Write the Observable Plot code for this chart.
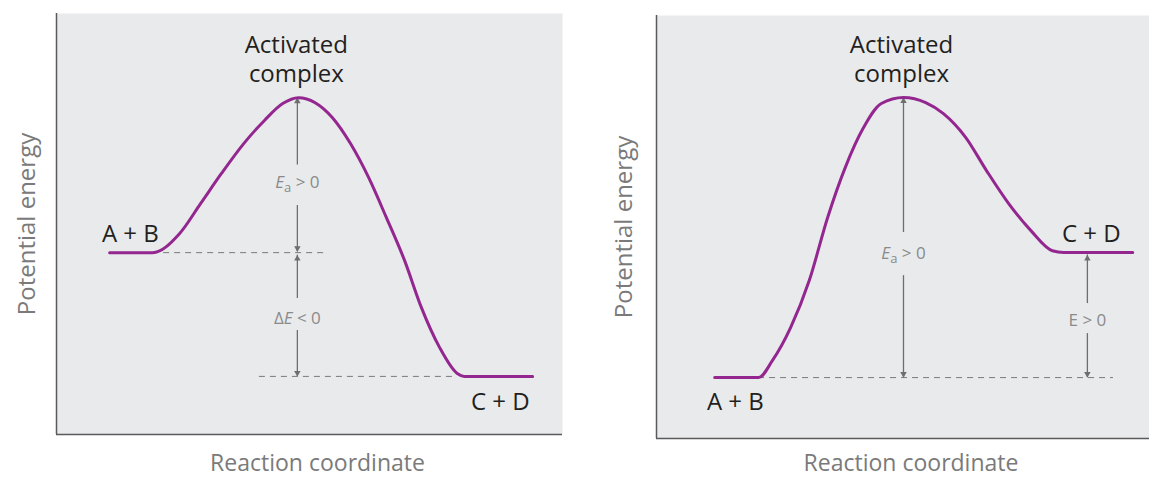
<!DOCTYPE html>
<html>
<head>
<meta charset="utf-8">
<script src="https://cdn.jsdelivr.net/npm/d3@7"></script>
<script src="https://cdn.jsdelivr.net/npm/@observablehq/plot@0.6"></script>
<style>
  body { margin: 0; background: #ffffff; }
  #wrap { display: flex; width: 1149px; height: 479px; overflow: hidden; }
  #wrap svg { display: block; }
</style>
</head>
<body>
<div id="wrap"></div>
<script>
// ---------- Left panel: exothermic reaction (ΔE < 0) ----------
const leftCurveX = [10.5, 19.0, 24.3, 28.5, 32.6, 37.0, 41.1, 44.7, 47.8, 54.5, 58.1, 61.7, 65.2, 68.8, 72.1, 75.7, 79.2, 80.6, 94.1];
const leftCurveE = [43.2, 43.2, 47.7, 54.9, 62.0, 69.1, 74.6, 78.6, 80.0, 75.3, 69.1, 61.0, 51.5, 41.3, 30.2, 20.7, 14.5, 13.8, 13.8];
const leftDashE = [43.2, 13.8];
const leftDashFrom = [19.0, 40.1];
const leftDashTo = [53.2, 79.2];
const leftArrowX = [47.6, 47.6, 47.6, 47.6];
const leftArrowFrom = [64.0, 54.4, 32.3, 24.7];
const leftArrowTo = [80.0, 43.4, 42.6, 13.8];
const leftLabels = ["Activated\ncomplex", "A + B", "C + D"];
const leftLabelX = [47.4, 14.6, 87.7];
const leftLabelE = [89.4, 48.0, 8.1];
const leftNotes = ["Ea > 0", "ΔE < 0"];
const leftNoteX = [47.6, 47.6];
const leftNoteE = [59.9, 27.6];

// ---------- Right panel: endothermic reaction (E > 0) ----------
const rightCurveX = [11.8, 20.7, 23.5, 27.2, 31.0, 34.7, 38.3, 42.0, 45.6, 50.1, 54.6, 58.2, 62.7, 66.9, 71.4, 75.9, 80.3, 82.6, 96.6];
const rightCurveE = [14.4, 14.4, 18.4, 26.2, 37.4, 52.2, 64.1, 73.5, 79.2, 80.6, 79.4, 76.8, 71.2, 63.4, 55.6, 49.2, 44.4, 44.0, 44.0];
const rightDashE = [14.4];
const rightDashFrom = [20.7];
const rightDashTo = [92.7];
const rightArrowX = [50.1, 50.1, 87.4, 87.4];
const rightArrowFrom = [48.7, 38.5, 31.9, 24.8];
const rightArrowTo = [80.6, 14.4, 43.4, 14.4];
const rightLabels = ["Activated\ncomplex", "C + D", "A + B"];
const rightLabelX = [49.7, 88.2, 16.0];
const rightLabelE = [90.0, 48.7, 9.0];
const rightNotes = ["Ea > 0", "E > 0"];
const rightNoteX = [50.1, 87.4];
const rightNoteE = [43.7, 27.9];

const axisTitleX = "Reaction coordinate";
const axisTitleY = "Potential energy";

const FONT = "'Open Sans', 'Noto Sans', sans-serif";
const PURPLE = "#93278f";
const PANEL = "#e9eaec";
const ARROW = "#6e6e6e";

function makePanel(cfg) {
  const curve = cfg.curveX.map((x, i) => ({x, e: cfg.curveE[i]}));
  const dashes = cfg.dashE.map((e, i) => ({e, x1: cfg.dashFrom[i], x2: cfg.dashTo[i]}));
  const shafts = cfg.arrowX.map((x, i) => ({x, from: cfg.arrowFrom[i], to: cfg.arrowTo[i]}));
  const upHeads = shafts.filter(d => d.to > d.from);
  const downHeads = shafts.filter(d => d.to < d.from);
  const labels = cfg.labels.map((t, i) => ({t, x: cfg.labelX[i], e: cfg.labelE[i]}));
  const notes = cfg.notes.map((t, i) => ({t, x: cfg.noteX[i], e: cfg.noteE[i]}));

  const svg = Plot.plot({
    width: cfg.width,
    height: 479,
    marginLeft: cfg.ml,
    marginRight: cfg.mr,
    marginTop: cfg.mt,
    marginBottom: cfg.mb,
    x: {domain: [0, 100], axis: null},
    y: {domain: [0, 100], axis: null},
    style: {fontFamily: FONT, background: "transparent", overflow: "visible"},
    marks: [
      Plot.frame({fill: PANEL, stroke: "none"}),
      Plot.ruleX([0], {stroke: "#5a5a5a", strokeWidth: 1.5}),
      Plot.ruleY([0], {stroke: "#5a5a5a", strokeWidth: 1.5}),
      Plot.ruleY(dashes, {y: "e", x1: "x1", x2: "x2", stroke: "#7a7a7a", strokeWidth: 1, strokeDasharray: "6,5"}),
      Plot.ruleX(shafts, {x: "x", y1: "from", y2: "to", stroke: ARROW, strokeWidth: 1.3}),
      Plot.dot(upHeads, {x: "x", y: "to", symbol: "triangle", r: 2.4, fill: ARROW, stroke: "none", dy: 3.6}),
      Plot.dot(downHeads, {x: "x", y: "to", symbol: "triangle", r: 2.4, rotate: 180, fill: ARROW, stroke: "none", dy: -3.6}),
      Plot.line(curve, {x: "x", y: "e", curve: "monotone-x", stroke: PURPLE, strokeWidth: 3}),
      Plot.text(labels, {x: "x", y: "e", text: "t", fontSize: 24, lineHeight: 1.22, fill: "#231f20"}),
      Plot.text(notes, {x: "x", y: "e", text: "t", fontSize: 17, fill: "#8a8a8a"}),
      Plot.text([axisTitleX], {frameAnchor: "bottom", dy: cfg.xlabDy, dx: 8, fontSize: 23, fill: "#7a7a7a", textAnchor: "middle", lineAnchor: "middle"}),
      Plot.text([axisTitleY], {frameAnchor: "left", rotate: -90, dx: cfg.ylabDx, fontSize: 24, fill: "#7a7a7a", textAnchor: "middle", lineAnchor: "middle"})
    ]
  });

  // Typeset the symbols: italic E, subscript a
  d3.select(svg).selectAll("text").each(function () {
    const t = d3.select(this);
    const s = this.textContent;
    if (s === "Ea > 0") {
      t.text(null);
      t.append("tspan").attr("font-style", "italic").text("E");
      t.append("tspan").attr("dy", 4).attr("font-size", 13).text("a");
      t.append("tspan").attr("dy", -4).text(" > 0");
    } else if (s === "ΔE < 0") {
      t.text(null);
      t.append("tspan").text("Δ");
      t.append("tspan").attr("font-style", "italic").text("E");
      t.append("tspan").text(" < 0");
    }
  });
  return svg;
}

const wrap = document.getElementById("wrap");
wrap.appendChild(makePanel({
  width: 600, ml: 56, mr: 38, mt: 13, mb: 45, ylabDx: -29, xlabDy: 29,
  curveX: leftCurveX, curveE: leftCurveE,
  dashE: leftDashE, dashFrom: leftDashFrom, dashTo: leftDashTo,
  arrowX: leftArrowX, arrowFrom: leftArrowFrom, arrowTo: leftArrowTo,
  labels: leftLabels, labelX: leftLabelX, labelE: leftLabelE,
  notes: leftNotes, noteX: leftNoteX, noteE: leftNoteE
}));
wrap.appendChild(makePanel({
  width: 549, ml: 56, mr: 0, mt: 15, mb: 41, ylabDx: -32, xlabDy: 25,
  curveX: rightCurveX, curveE: rightCurveE,
  dashE: rightDashE, dashFrom: rightDashFrom, dashTo: rightDashTo,
  arrowX: rightArrowX, arrowFrom: rightArrowFrom, arrowTo: rightArrowTo,
  labels: rightLabels, labelX: rightLabelX, labelE: rightLabelE,
  notes: rightNotes, noteX: rightNoteX, noteE: rightNoteE
}));
</script>
</body>
</html>
